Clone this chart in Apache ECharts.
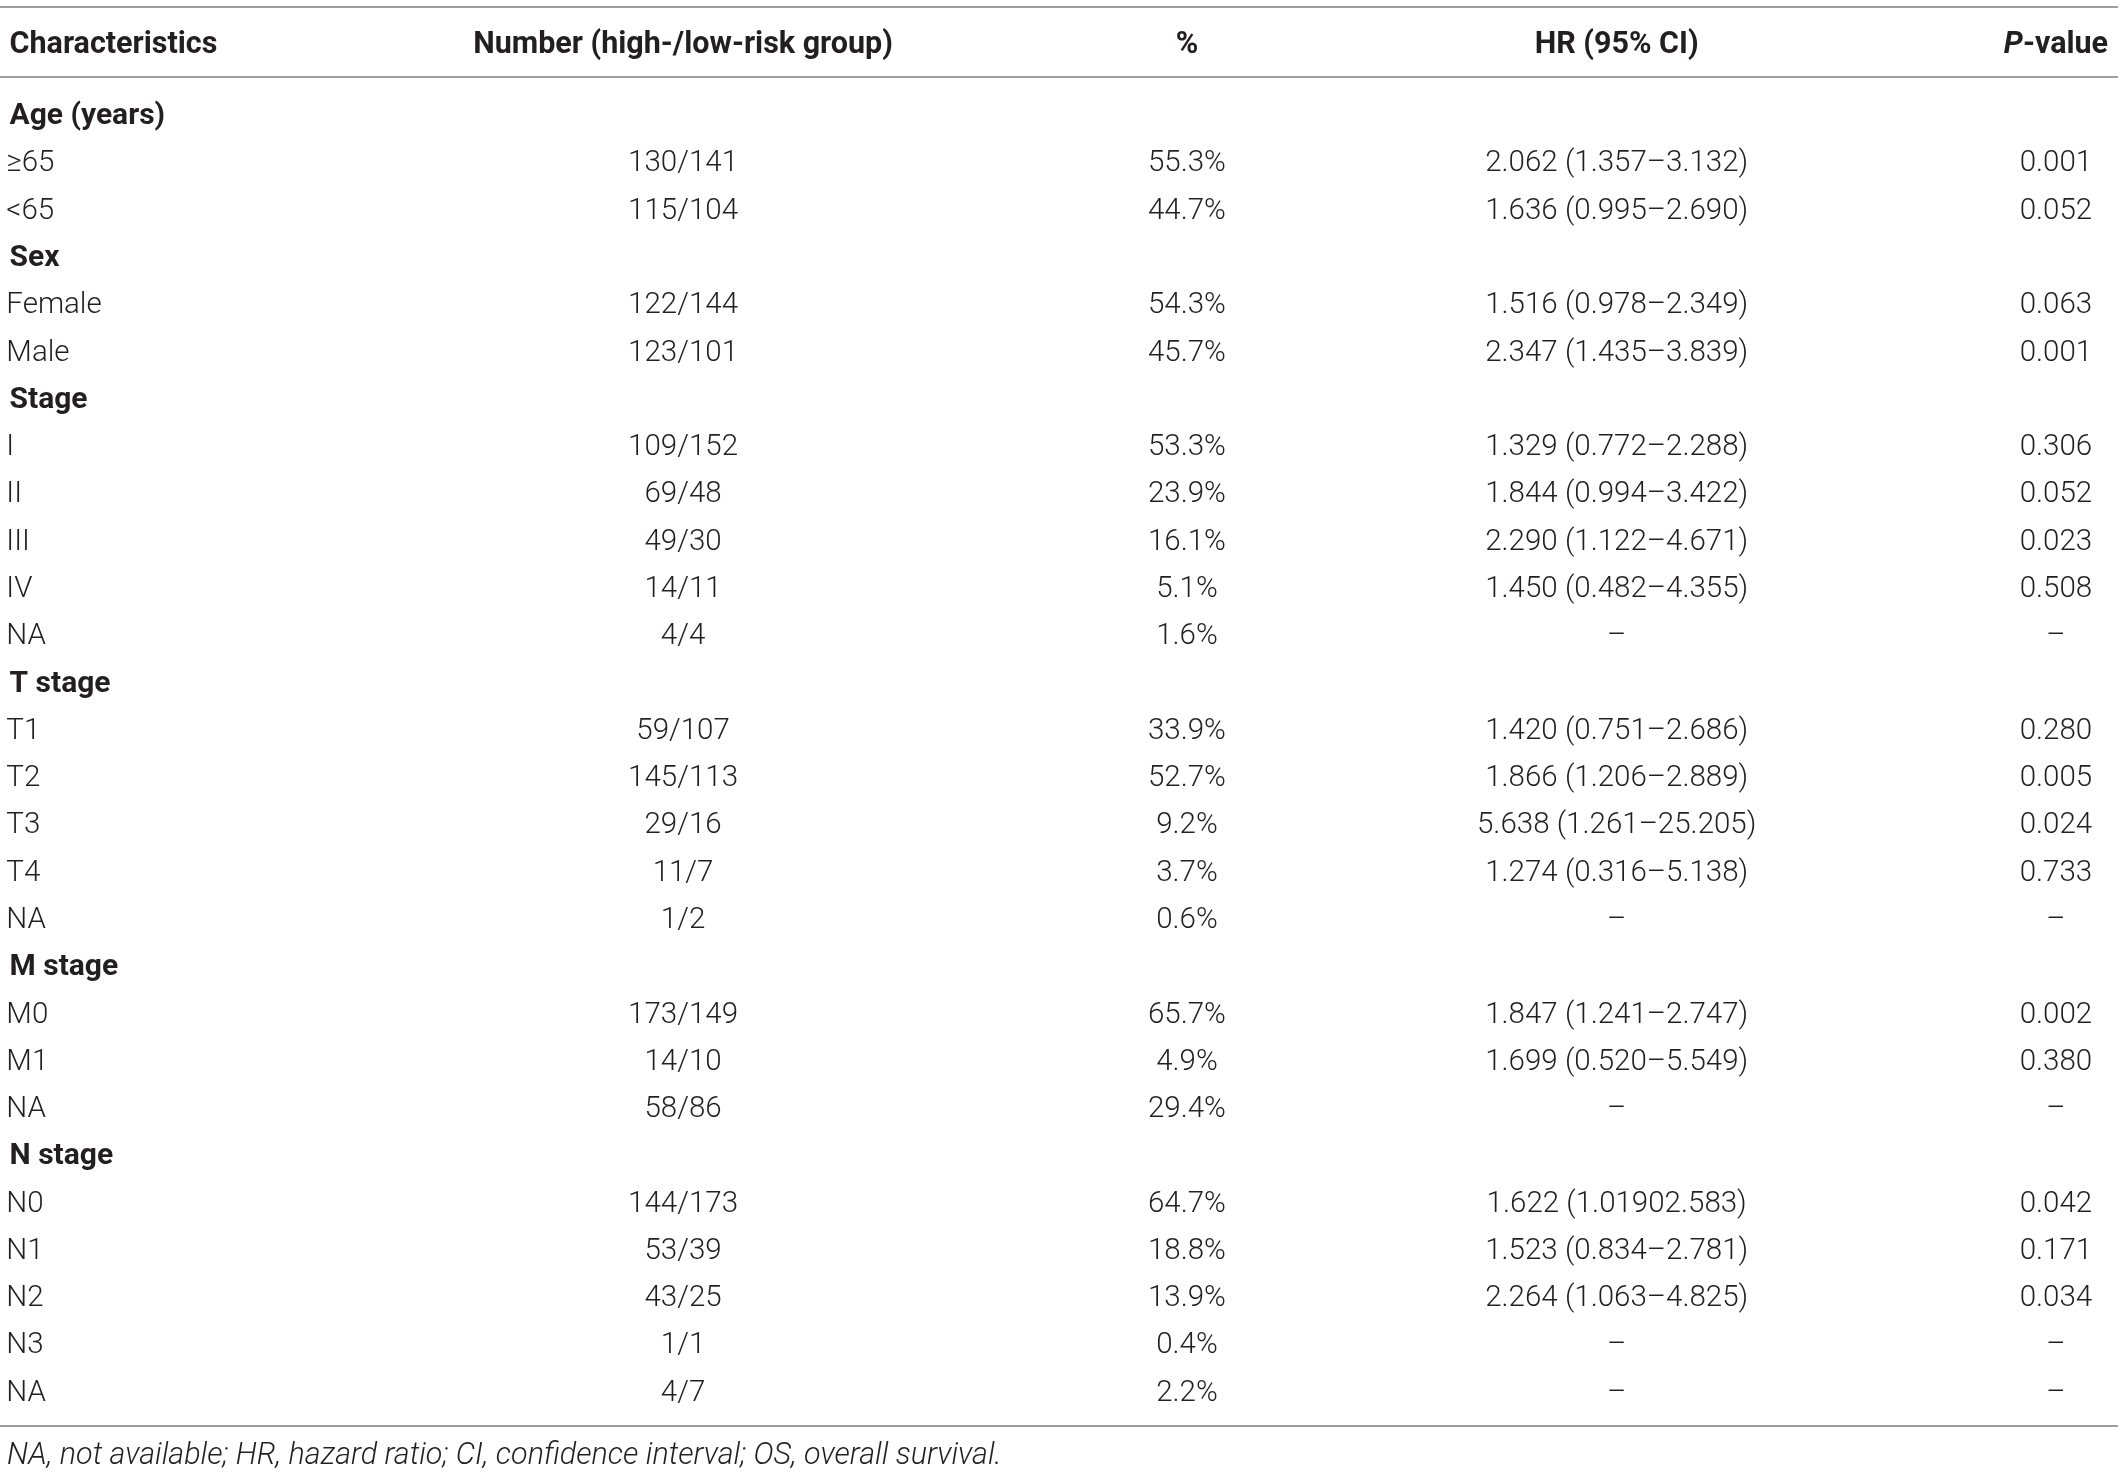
<!DOCTYPE html>
<html lang="en">
<head>
    <meta charset="UTF-8">
    <title>Risk group characteristics</title>
    <style type="text/css">
        html, body { margin: 0; padding: 0; background: #fff; }
        #table { width: 2118px; height: 1472px; }
    </style>
</head>
<body>
    <div id="table"></div>
    <script src="https://cdn.jsdelivr.net/npm/echarts@6/dist/echarts.min.js"></script>
    <script type="text/javascript">
        // table content
        var headers = ['Characteristics', 'Number (high-/low-risk group)', '%', 'HR (95% CI)', '{i|P}-value'];
        var characteristics = ['Age (years)', '≥65', '<65', 'Sex', 'Female', 'Male', 'Stage', 'I', 'II', 'III', 'IV', 'NA',
            'T stage', 'T1', 'T2', 'T3', 'T4', 'NA', 'M stage', 'M0', 'M1', 'NA', 'N stage', 'N0', 'N1', 'N2', 'N3', 'NA'];
        var groupRows = ['Age (years)', 'Sex', 'Stage', 'T stage', 'M stage', 'N stage'];
        var numbers = ['', '130/141', '115/104', '', '122/144', '123/101', '', '109/152', '69/48', '49/30', '14/11', '4/4',
            '', '59/107', '145/113', '29/16', '11/7', '1/2', '', '173/149', '14/10', '58/86', '', '144/173', '53/39', '43/25', '1/1', '4/7'];
        var percents = ['', '55.3%', '44.7%', '', '54.3%', '45.7%', '', '53.3%', '23.9%', '16.1%', '5.1%', '1.6%',
            '', '33.9%', '52.7%', '9.2%', '3.7%', '0.6%', '', '65.7%', '4.9%', '29.4%', '', '64.7%', '18.8%', '13.9%', '0.4%', '2.2%'];
        var hazardRatios = ['', '2.062 (1.357–3.132)', '1.636 (0.995–2.690)', '', '1.516 (0.978–2.349)', '2.347 (1.435–3.839)', '',
            '1.329 (0.772–2.288)', '1.844 (0.994–3.422)', '2.290 (1.122–4.671)', '1.450 (0.482–4.355)', '–',
            '', '1.420 (0.751–2.686)', '1.866 (1.206–2.889)', '5.638 (1.261–25.205)', '1.274 (0.316–5.138)', '–',
            '', '1.847 (1.241–2.747)', '1.699 (0.520–5.549)', '–',
            '', '1.622 (1.01902.583)', '1.523 (0.834–2.781)', '2.264 (1.063–4.825)', '–', '–'];
        var pValues = ['', '0.001', '0.052', '', '0.063', '0.001', '', '0.306', '0.052', '0.023', '0.508', '–',
            '', '0.280', '0.005', '0.024', '0.733', '–', '', '0.002', '0.380', '–', '', '0.042', '0.171', '0.034', '–', '–'];
        var footnote = 'NA, not available; HR, hazard ratio; CI, confidence interval; OS, overall survival.';

        // layout: column anchors as fraction of table width, and alignment
        var colAnchor = [0.0045, 0.3225, 0.5604, 0.7633, 0.9707];
        var plainIndent = 0.003;
        var colAlign = ['left', 'center', 'center', 'center', 'center'];
        var textColor = '#231f20';
        var ruleColor = '#9d9d9d';
        var bodyFont = 'Roboto, "Liberation Sans", sans-serif';

        var columns = [characteristics, numbers, percents, hazardRatios, pValues];
        var rowIds = characteristics.map(function (c, i) { return i; });

        var bodyCells = [];
        columns.forEach(function (col, c) {
            col.forEach(function (txt, r) {
                if (txt === '') return;
                var bold = c === 0 && groupRows.indexOf(txt) >= 0;
                bodyCells.push({
                    x: (c === 0 && !bold) ? plainIndent : colAnchor[c],
                    row: r, text: txt, col: c, bold: bold
                });
            });
        });
        var headCells = headers.map(function (h, c) {
            return { x: colAnchor[c], row: 0, text: h, col: c, bold: true, head: true };
        });

        function makeRenderer(cells) {
            return function (params, api) {
                var cell = cells[params.dataIndex];
                var pt = api.coord([api.value(0), api.value(1)]);
                var size = cell.head ? 30.5 : (cell.bold ? 30 : 29.5);
                return {
                    type: 'text',
                    x: pt[0],
                    y: pt[1],
                    style: {
                        text: cell.text,
                        fill: textColor,
                        fontFamily: bodyFont,
                        fontSize: size,
                        fontWeight: cell.bold ? 700 : 300,
                        align: colAlign[cell.col],
                        verticalAlign: 'middle',
                        rich: {
                            i: { fontStyle: 'italic', fontWeight: 700, fontSize: size, fontFamily: bodyFont, fill: textColor }
                        }
                    }
                };
            };
        }

        function hiddenAxis(extra) {
            var a = {
                type: 'value', min: 0, max: 1,
                axisLine: { show: true, onZero: false, lineStyle: { color: ruleColor, width: 2 } },
                axisTick: { show: false }, axisLabel: { show: false }, splitLine: { show: false }
            };
            for (var k in extra) a[k] = extra[k];
            return a;
        }

        var myTable = echarts.init(document.getElementById('table'));
        var option = {
            animation: false,
            grid: [
                { left: 0, right: 0, top: 10, height: 70 },
                { left: 0, right: 0, top: 93.2, bottom: 55 }
            ],
            xAxis: [
                hiddenAxis({ gridIndex: 0, position: 'top', offset: 3 }),
                hiddenAxis({ gridIndex: 0, position: 'bottom', offset: -3 }),
                hiddenAxis({ gridIndex: 1, position: 'bottom', offset: 8.5 })
            ],
            yAxis: [
                { gridIndex: 0, type: 'category', data: [0], show: false },
                { gridIndex: 1, type: 'category', data: rowIds, inverse: true, show: false }
            ],
            graphic: [{
                type: 'text',
                left: 7,
                top: 1441,
                style: {
                    text: footnote,
                    fill: textColor,
                    fontFamily: bodyFont,
                    fontSize: 30.5,
                    fontWeight: 300,
                    fontStyle: 'italic'
                }
            }],
            series: [
                {
                    type: 'custom',
                    xAxisIndex: 1,
                    yAxisIndex: 0,
                    renderItem: makeRenderer(headCells),
                    data: headCells.map(function (c) { return [c.x, c.row]; }),
                    encode: { x: 0, y: 1 }
                },
                {
                    type: 'custom',
                    xAxisIndex: 2,
                    yAxisIndex: 1,
                    renderItem: makeRenderer(bodyCells),
                    data: bodyCells.map(function (c) { return [c.x, c.row]; }),
                    encode: { x: 0, y: 1 }
                }
            ]
        };
        myTable.setOption(option);
    </script>
</body>
</html>
